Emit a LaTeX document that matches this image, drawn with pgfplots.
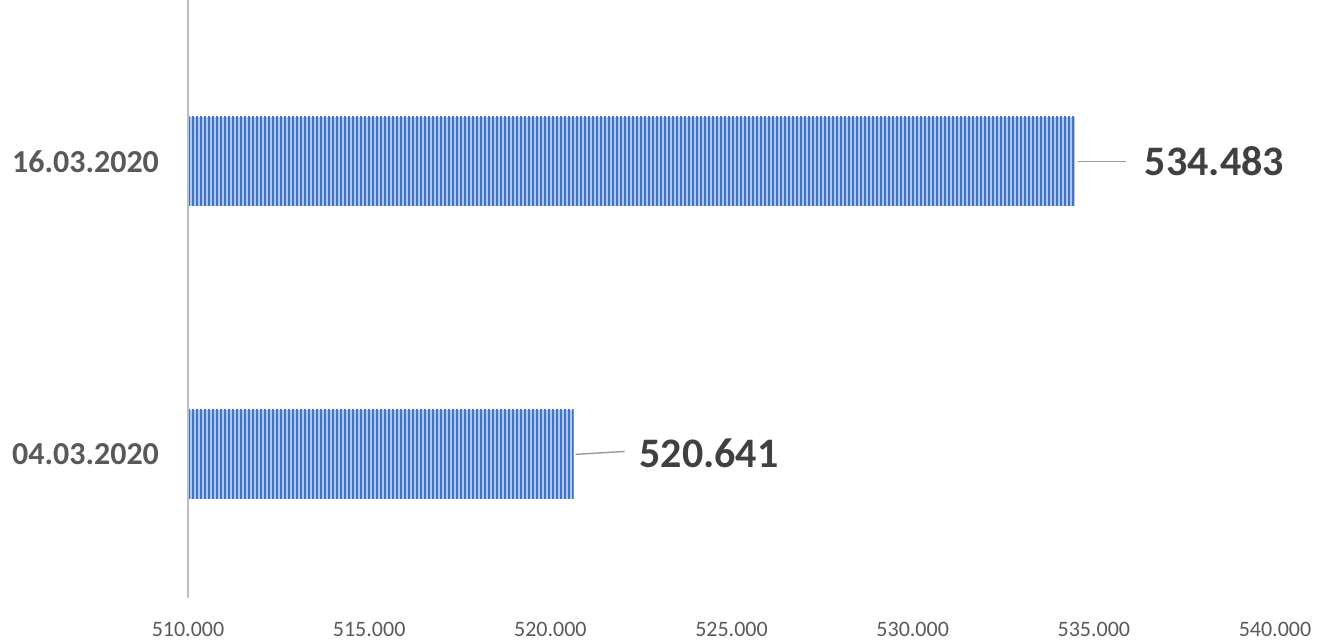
\documentclass[border=0pt]{standalone}
\usepackage{pgfplots}
\pgfplotsset{compat=1.18}
\usepackage{fontspec}
\setmainfont{Carlito}
\usetikzlibrary{patterns}
\definecolor{barlight}{RGB}{172,199,240}
\definecolor{bardark}{RGB}{68,114,196}
\definecolor{ticktext}{RGB}{89,89,89}
\definecolor{valtext}{RGB}{64,64,64}
\definecolor{axisgray}{RGB}{191,191,191}
% fine vertical stripes, 2pt period, tall tile to avoid seams
\pgfdeclarepatternformonly{vstripes}{\pgfpoint{0pt}{-0.2pt}}{\pgfpoint{2pt}{10.2pt}}{\pgfpoint{2pt}{10pt}}{%
  \pgfpathrectangle{\pgfpoint{0pt}{-0.2pt}}{\pgfpoint{1.1pt}{10.4pt}}\pgfusepath{fill}}
\begin{document}
\begin{tikzpicture}
  % fixed page size: 1317x641 px at 0.5pt per px
  \path[use as bounding box] (-94pt,-21.5pt) rectangle (564.5pt,299pt);
  \begin{axis}[
    at={(0pt,0pt)}, anchor=south west,
    scale only axis,
    width=543.5pt, height=299pt,
    xmin=510, xmax=540,
    ymin=-0.49, ymax=1.55,
    xtick={510,515,520,525,530,535,540},
    ytick={0,1},
    yticklabels={04.03.2020,16.03.2020},
    scaled x ticks=false,
    x tick label style={/pgf/number format/fixed, /pgf/number format/fixed zerofill,
      /pgf/number format/precision=3, /pgf/number format/assume math mode=true},
    major tick length=0pt,
    axis line style={draw=none},
    xticklabel style={font=\fontsize{11}{13}\selectfont, text=ticktext, yshift=-8.5pt},
    yticklabel style={font=\fontsize{16}{18}\selectfont\bfseries, text=ticktext, xshift=-11pt},
    clip=false,
  ]
  % bars, values in thousands (half height 0.152 of category step)
  \addplot[draw=none, fill=barlight, postaction={pattern=vstripes, pattern color=bardark}]
    coordinates {(510,-0.152) (520.641,-0.152) (520.641,0.152) (510,0.152)} -- cycle;
  \addplot[draw=none, fill=barlight, postaction={pattern=vstripes, pattern color=bardark}]
    coordinates {(510,0.848) (534.483,0.848) (534.483,1.152) (510,1.152)} -- cycle;
  % vertical axis line
  \draw[axisgray, line width=1.4pt] (axis cs:510,-0.49) -- (axis cs:510,1.55);
  % leader lines and value labels
  \draw[gray!80, line width=0.7pt] (axis cs:520.70,0) -- (axis cs:522.05,0.01);
  \draw[gray!80, line width=0.7pt] (axis cs:534.55,1) -- (axis cs:535.90,1);
  \node[anchor=west, text=valtext, font=\fontsize{21}{24}\selectfont\bfseries, inner sep=0pt]
    at (axis cs:522.45,0.005) {520.641};
  \node[anchor=west, text=valtext, font=\fontsize{21}{24}\selectfont\bfseries, inner sep=0pt]
    at (axis cs:536.40,1) {534.483};
  \end{axis}
\end{tikzpicture}
\end{document}
